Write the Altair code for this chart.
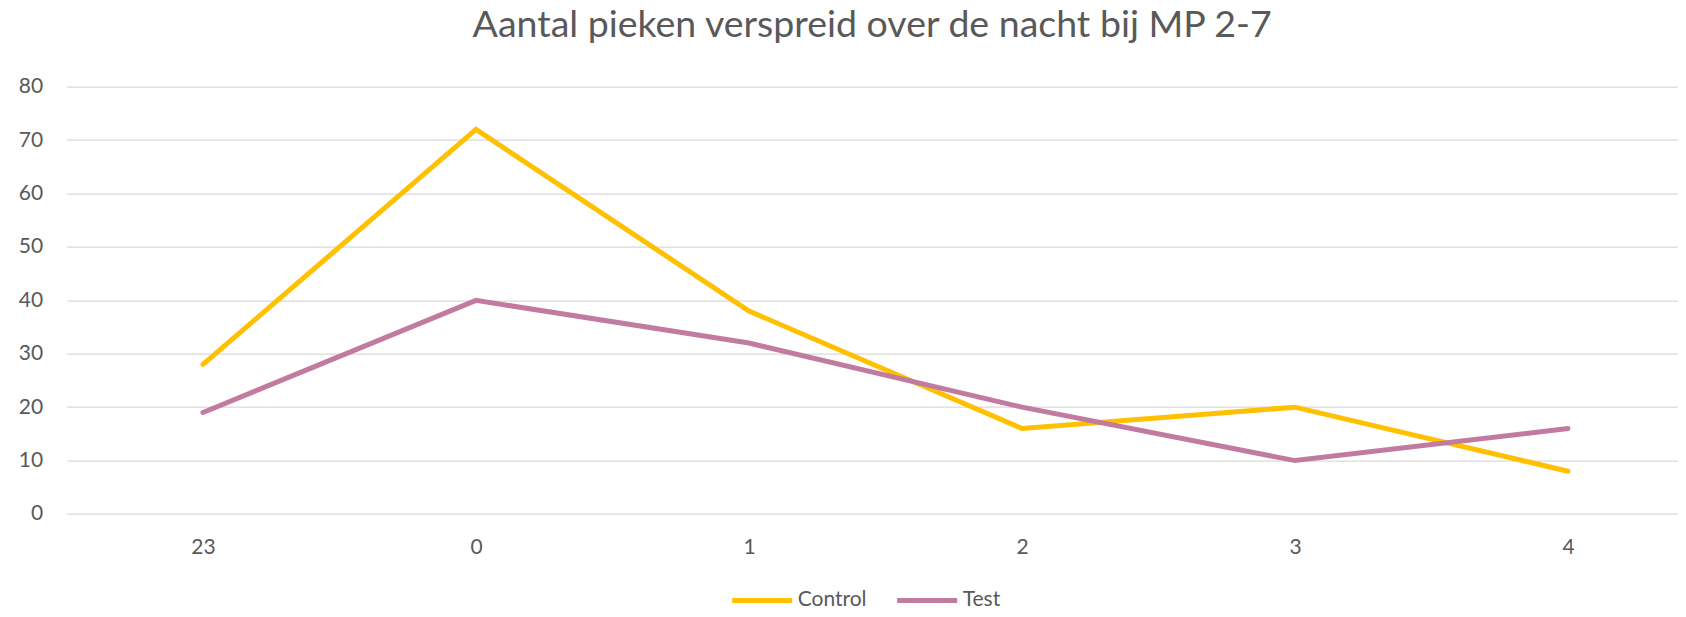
import altair as alt
import pandas as pd

hours = ["23", "0", "1", "2", "3", "4"]
control = [28, 72, 38, 16, 20, 8]
test = [19, 40, 32, 20, 10, 16]
series_names = ["Control", "Test"]
series_colors = ["#FFC000", "#C27BA0"]
y_ticks = [0, 10, 20, 30, 40, 50, 60, 70, 80]

rows = []
for h, c, t in zip(hours, control, test):
    rows.append({"uur": h, "serie": "Control", "aantal": c})
    rows.append({"uur": h, "serie": "Test", "aantal": t})
df = pd.DataFrame(rows)

FONT = "Lato"
GREY = "#595959"

chart = alt.Chart(df).mark_line(
    strokeWidth=5, strokeCap="round", strokeJoin="miter"
).encode(
    x=alt.X(
        "uur:N", sort=hours,
        scale=alt.Scale(type="point", padding=0.4505, align=0.554),
        axis=alt.Axis(title=None, labelAngle=0, grid=False, ticks=False, domain=False,
                      labelPadding=23, labelFont=FONT, labelFontSize=21, labelColor=GREY),
    ),
    y=alt.Y(
        "aantal:Q",
        scale=alt.Scale(domain=[0, 80], nice=False),
        axis=alt.Axis(title=None, values=y_ticks, grid=True, gridColor="#D9D9D9", gridWidth=1.3,
                      ticks=False, domain=False, labelPadding=24, labelFont=FONT,
                      labelFontSize=21, labelColor=GREY),
    ),
    color=alt.Color(
        "serie:N",
        scale=alt.Scale(domain=series_names, range=series_colors),
        legend=alt.Legend(
            title=None, orient="none", direction="horizontal", legendX=663, legendY=481,
            symbolType="stroke", symbolSize=3600, symbolStrokeWidth=5,
            labelFont=FONT, labelFontSize=21, labelColor=GREY, labelOffset=3,
            columnPadding=20,
        ),
    ),
).properties(
    width=1611,
    height=427.3,
    title=alt.TitleParams(
        "Aantal pieken verspreid over de nacht bij MP 2-7",
        font=FONT, fontSize=37.5, fontWeight="normal", color=GREY,
        anchor="middle", offset=31,
    ),
    autosize=alt.AutoSizeParams(type="none"),
    padding={"left": 58.7, "top": 78.7, "right": 0, "bottom": 95},
).configure_view(stroke=None)

chart.save("out.html", embed_options={"renderer": "svg", "actions": False})
